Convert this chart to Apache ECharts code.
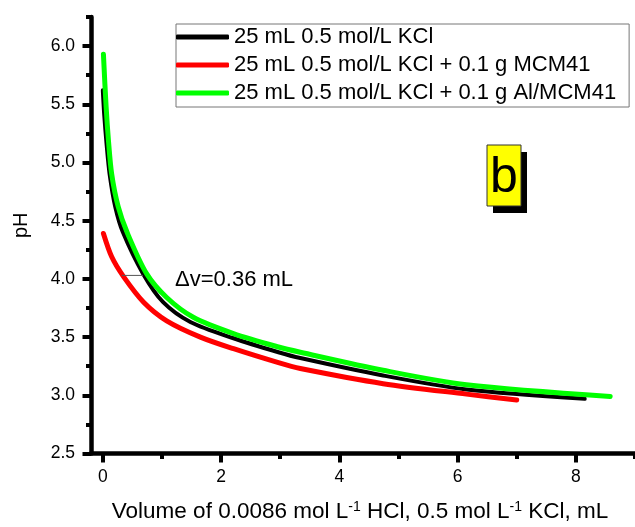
<!DOCTYPE html>
<html>
<head>
<meta charset="utf-8">
<script src="https://cdn.jsdelivr.net/npm/echarts@6/dist/echarts.min.js"></script>
<style>
    html, body { margin: 0; padding: 0; background: #fff; }
    #chart { width: 635px; height: 527px; }
</style>
</head>
<body>
<div id="chart"></div>
<script>
var seriesNames = ['25 mL 0.5 mol/L KCl', '25 mL 0.5 mol/L KCl + 0.1 g MCM41', '25 mL 0.5 mol/L KCl + 0.1 g Al/MCM41'];

// volume (mL), pH
var kclData = [[0.0, 5.62], [0.025, 5.40], [0.065, 5.15], [0.115, 4.90], [0.21, 4.62], [0.34, 4.40], [0.68, 4.045],
    [1.02, 3.80], [1.48, 3.63], [2.21, 3.49], [2.97, 3.37], [3.34, 3.32], [4.74, 3.17], [6.15, 3.05], [8.15, 2.97]];
var mcmData = [[0.01, 4.39], [0.15, 4.19], [0.35, 4.02], [0.69, 3.80], [1.08, 3.64], [1.65, 3.50], [2.21, 3.40],
    [2.97, 3.28], [3.34, 3.23], [4.74, 3.10], [6.15, 3.01], [7.0, 2.96]];
var alMcmData = [[0.01, 5.93], [0.056, 5.475], [0.095, 5.19], [0.15, 4.90], [0.26, 4.62], [0.41, 4.40], [0.74, 4.045],
    [1.08, 3.84], [1.53, 3.67], [2.21, 3.53], [2.97, 3.415], [3.34, 3.37], [4.74, 3.215], [6.15, 3.09], [8.58, 2.99]];
var deltaLine = [[0.32, 4.03], [0.68, 4.03]];

var xLabelValues = [0, 2, 4, 6, 8];
var xMinorValues = [1, 3, 5, 7, 9];
var yLabelValues = [2.5, 3.0, 3.5, 4.0, 4.5, 5.0, 5.5, 6.0];
var yMinorValues = [2.75, 3.25, 3.75, 4.25, 4.75, 5.25, 5.75, 6.25];

var ff = 'Liberation Sans, Arial, sans-serif';
var myChart = echarts.init(document.getElementById('chart'));

var option = {
    animation: false,
    backgroundColor: '#fff',
    grid: {
        left: 91,
        right: 0,
        top: 17,
        bottom: 73.5,
        outerBoundsMode: 'none'
    },
    legend: {
        data: seriesNames,
        orient: 'vertical',
        left: 176,
        top: 24,
        icon: 'roundRect',
        itemWidth: 53,
        itemHeight: 5,
        itemGap: 6,
        padding: [2, 13, 3, 0],
        borderColor: '#777',
        borderWidth: 1,
        backgroundColor: '#fff',
        textStyle: { fontSize: 22, color: '#000', fontFamily: ff }
    },
    xAxis: [{
        type: 'value',
        min: -0.2,
        max: 9,
        name: 'Volume of 0.0086 mol L{sup|-1} HCl, 0.5 mol L{sup|-1} KCl, mL',
        nameLocation: 'middle',
        nameGap: 47,
        nameTextStyle: {
            fontSize: 22.5, color: '#000', fontFamily: ff, lineHeight: 22, padding: [0, 6, 0, 0],
            rich: { sup: { fontSize: 14, lineHeight: 14, verticalAlign: 'top', fontFamily: ff, color: '#000' } }
        },
        axisLine: { onZero: false, lineStyle: { color: '#000', width: 4.5 } },
        axisTick: { customValues: xLabelValues, length: 9, lineStyle: { color: '#000', width: 4 } },
        axisLabel: { customValues: xLabelValues, margin: 15, fontSize: 17.5, color: '#000', fontFamily: ff },
        splitLine: { show: false }
    }, {
        type: 'value',
        position: 'bottom',
        min: -0.2,
        max: 9,
        axisLine: { show: false, onZero: false },
        axisTick: { customValues: xMinorValues, length: 5.5, lineStyle: { color: '#000', width: 4 } },
        axisLabel: { show: false },
        splitLine: { show: false }
    }],
    yAxis: [{
        type: 'value',
        min: 2.5,
        max: 6.25,
        name: 'pH',
        nameLocation: 'middle',
        nameGap: 60,
        nameTextStyle: { fontSize: 20, color: '#000', fontFamily: ff, padding: [0, 0, 0, 20] },
        axisLine: { onZero: false, lineStyle: { color: '#000', width: 4.5 } },
        axisTick: { customValues: yLabelValues, length: 8.5, lineStyle: { color: '#000', width: 4 } },
        axisLabel: {
            customValues: yLabelValues, margin: 16, fontSize: 17.5, color: '#000', fontFamily: ff,
            formatter: function (v) { return v.toFixed(1); }
        },
        splitLine: { show: false }
    }, {
        type: 'value',
        position: 'left',
        min: 2.5,
        max: 6.25,
        axisLine: { show: false, onZero: false },
        axisTick: { customValues: yMinorValues, length: 5, lineStyle: { color: '#000', width: 4 } },
        axisLabel: { show: false },
        splitLine: { show: false }
    }],
    graphic: [
        { type: 'rect', shape: { x: 493, y: 152, width: 34, height: 61 }, style: { fill: '#000' } },
        { type: 'rect', shape: { x: 487, y: 145, width: 34, height: 61 }, style: { fill: '#ffff00', stroke: '#333', lineWidth: 1 } },
        { type: 'text', x: 504, y: 178, style: { text: 'b', font: '50px ' + ff, fill: '#000', align: 'center', verticalAlign: 'middle' } },
        { type: 'text', x: 175, y: 280, style: { text: 'Δv=0.36 mL', font: '22px ' + ff, fill: '#000', align: 'left', verticalAlign: 'middle' } }
    ],
    series: [{
        name: seriesNames[0],
        type: 'line',
        data: kclData,
        smooth: 0.3,
        symbol: 'none',
        lineStyle: { color: '#000', width: 4, cap: 'round' },
        itemStyle: { color: '#000' }
    }, {
        name: seriesNames[1],
        type: 'line',
        data: mcmData,
        smooth: 0.3,
        symbol: 'none',
        lineStyle: { color: '#ff0000', width: 5, cap: 'round' },
        itemStyle: { color: '#ff0000' }
    }, {
        name: seriesNames[2],
        type: 'line',
        data: alMcmData,
        smooth: 0.3,
        symbol: 'none',
        lineStyle: { color: '#00ff00', width: 5, cap: 'round' },
        itemStyle: { color: '#00ff00' }
    }, {
        name: 'dv',
        type: 'line',
        data: deltaLine,
        symbol: 'none',
        silent: true,
        lineStyle: { color: '#555', width: 1 }
    }]
};

myChart.setOption(option);
</script>
</body>
</html>
